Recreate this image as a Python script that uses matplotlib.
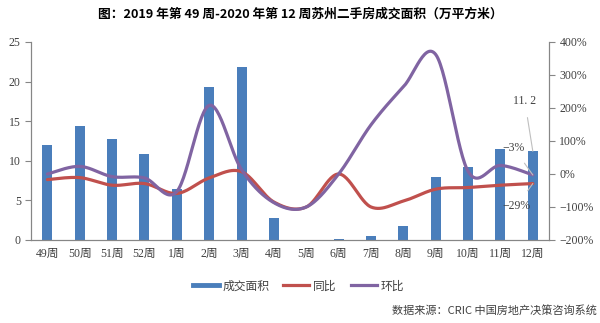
import numpy as np
import matplotlib.pyplot as plt
from matplotlib.lines import Line2D
from matplotlib.ticker import FuncFormatter

plt.rcParams['font.family'] = ['Liberation Serif', 'Noto Sans CJK SC']

# Data
weeks = ['49周', '50周', '51周', '52周', '1周', '2周', '3周', '4周',
         '5周', '6周', '7周', '8周', '9周', '10周', '11周', '12周']
area = [12.0, 14.4, 12.8, 10.9, 6.4, 19.3, 21.9, 2.8,
        0.0, 0.1, 0.5, 1.8, 8.0, 9.2, 11.5, 11.2]
yoy = [-17, -11, -34, -29, -59, -12, 7, -85,
       -100, 0, -100, -82, -46, -41, -34, -29]
mom = [0, 23, -8, -12, -53, 208, 13, -87,
       -100, 0, 149, 264, 362, 8, 26, -3]

BLUE = '#4A7EBB'
RED = '#C0504D'
PURPLE = '#8064A2'
SANS = ['Noto Sans CJK SC', 'DejaVu Sans']


def smooth(xs, ys, n=30):
    # Excel-like smoothed line (Catmull-Rom as cubic Bezier)
    p = np.column_stack([xs, ys]).astype(float)
    out = [p[0]]
    for i in range(len(p) - 1):
        p0 = p[i - 1] if i > 0 else p[i]
        p1, p2 = p[i], p[i + 1]
        p3 = p[i + 2] if i + 2 < len(p) else p[i + 1]
        c1 = p1 + (p2 - p0) / 6
        c2 = p2 - (p3 - p1) / 6
        t = np.linspace(0, 1, n)[1:, None]
        seg = ((1 - t) ** 3) * p1 + 3 * ((1 - t) ** 2) * t * c1 + 3 * (1 - t) * t ** 2 * c2 + t ** 3 * p2
        out.extend(seg)
    out = np.array(out)
    return out[:, 0], out[:, 1]


fig = plt.figure(figsize=(6, 3.23), dpi=100)
ax = fig.add_axes([0.052, 0.257, 0.863, 0.613])
x = np.arange(len(weeks))
ax.bar(x, area, width=0.31, color=BLUE, zorder=1)
ax.set_xlim(-0.5, len(weeks) - 0.5)
ax.set_ylim(0, 25)
ax.set_yticks([0, 5, 10, 15, 20, 25])
ax.set_xticks(x)
ax.set_xticklabels(weeks)

ax2 = ax.twinx()
ax2.set_ylim(-200, 400)
ax2.set_yticks(range(-200, 401, 100))
ax2.yaxis.set_major_formatter(FuncFormatter(lambda v, _: f"{v:.0f}%".replace('-', '−')))
sx, sy = smooth(x, yoy)
ax2.plot(sx, sy, color=RED, lw=2.3, solid_capstyle='round', zorder=3)
sx, sy = smooth(x, mom)
ax2.plot(sx, sy, color=PURPLE, lw=2.3, solid_capstyle='round', zorder=3)

for a in (ax, ax2):
    a.spines['top'].set_visible(False)
    for s in ('left', 'right', 'bottom'):
        a.spines[s].set_color('#868686')
        a.spines[s].set_linewidth(0.8)
    a.tick_params(axis='y', labelsize=8.5, color='#868686', length=4, labelcolor='#404040')
ax.tick_params(axis='x', length=0, labelsize=8.5, labelcolor='#404040', pad=6)

# data labels with leader lines
last = len(weeks) - 1
ax.annotate(f"{area[-1]:.1f}".replace('.', '. '), xy=(last, area[-1]), xytext=(last - 0.25, 17.6),
            ha='center', va='center', fontsize=8.5, color='#404040',
            arrowprops=dict(arrowstyle='-', color='#BFBFBF', lw=0.8, shrinkA=6, shrinkB=0))
ax2.annotate(f"{mom[-1]}%".replace('-', '−'), xy=(last, mom[-1]), xytext=(last - 0.6, 80),
             ha='center', va='center', fontsize=8.5, color='#404040',
             arrowprops=dict(arrowstyle='-', color='#BFBFBF', lw=0.8, shrinkA=6, shrinkB=0))
ax2.annotate(f"{yoy[-1]}%".replace('-', '−'), xy=(last, yoy[-1]), xytext=(last - 0.5, -98),
             ha='center', va='center', fontsize=8.5, color='#404040',
             arrowprops=dict(arrowstyle='-', color='#BFBFBF', lw=0.8, shrinkA=6, shrinkB=0))

fig.text(0.5, 0.955, '图：2019 年第 49 周-2020 年第 12 周苏州二手房成交面积（万平方米）',
         ha='center', va='center', fontsize=9.2, fontweight='bold', family=SANS)

handles = [Line2D([], [], color=BLUE, lw=3.5),
           Line2D([], [], color=RED, lw=2.3),
           Line2D([], [], color=PURPLE, lw=2.3)]
fig.legend(handles, ['成交面积', '同比', '环比'], loc='center', bbox_to_anchor=(0.497, 0.115),
           ncol=3, frameon=False, handlelength=2.2, handletextpad=0.3,
           columnspacing=1.2, labelcolor='#404040', prop={'family': SANS, 'size': 8.5})

fig.text(0.995, 0.04, '数据来源：CRIC 中国房地产决策咨询系统', ha='right', va='center',
         fontsize=8, color='#404040', family=SANS)

fig.savefig('out.png', dpi=100)
